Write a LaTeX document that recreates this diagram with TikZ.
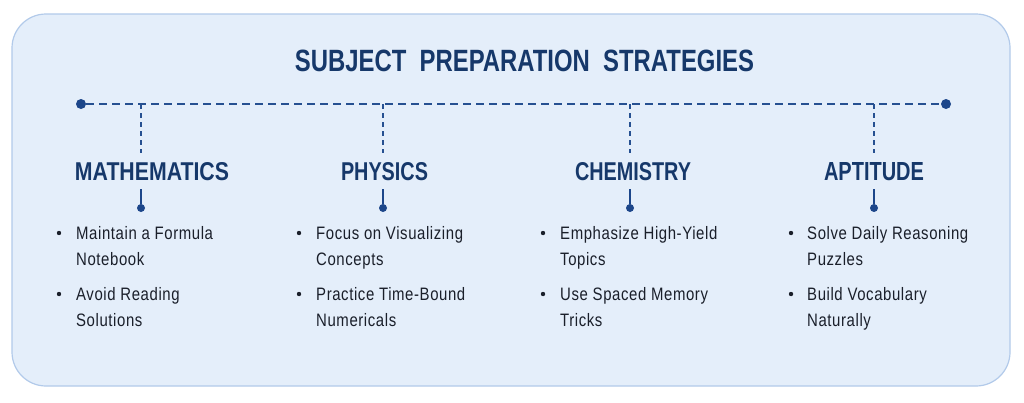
\documentclass[tikz,border=0pt]{standalone}
\usepackage{fontspec}
\setmainfont{Liberation Sans}
\newfontfamily\headfont{Liberation Sans}[BoldFont={* Bold}]
\newfontfamily\bodyfont{Liberation Sans}[LetterSpace=4.0]
\usepackage{graphicx}
\definecolor{boxfill}{RGB}{228,238,250}
\definecolor{boxline}{RGB}{178,202,234}
\definecolor{navy}{RGB}{22,56,106}
\definecolor{linecol}{RGB}{38,80,145}
\definecolor{dotcol}{RGB}{28,70,138}
\definecolor{bodytext}{RGB}{26,31,42}
\tikzset{
  heading/.style={anchor=base, inner sep=0pt, text=navy},
  bodyline/.style={anchor=base west, inner sep=0pt, text=bodytext, font=\bodyfont\fontsize{18}{20}\selectfont},
  bigdot/.style={circle, fill=dotcol, inner sep=0pt, minimum size=10pt},
  smalldot/.style={circle, fill=dotcol, inner sep=0pt, minimum size=8pt},
  bulletdot/.style={circle, fill=bodytext, inner sep=0pt, minimum size=4.4pt},
  mainline/.style={draw=linecol, line width=1.8pt, dash pattern=on 8pt off 5pt},
  branchline/.style={draw=linecol, line width=1.3pt, dash pattern=on 5pt off 4pt},
  stemline/.style={draw=dotcol, line width=1.5pt}
}
\newcommand{\hd}[3]{\resizebox{#1pt}{#2pt}{\headfont\bfseries #3}}
\newcommand{\bt}[1]{\scalebox{0.83}[1]{#1}}
\begin{document}
\begin{tikzpicture}[x=1pt,y=-1pt]
\useasboundingbox (0,0) rectangle (1024,402);
\fill[white] (0,0) rectangle (1024,402);
\draw[fill=boxfill, draw=boxline, line width=1.2pt, rounded corners=34pt] (12,14) rectangle (1010,386);

% title
\node[heading] (title) at (524.5,71) {\hd{459}{21.5}{SUBJECT\ \ PREPARATION\ \ STRATEGIES}};

% main line
\node[bigdot] (L) at (81,104) {};
\node[bigdot] (R) at (946,104) {};
\draw[mainline] (L) -- (R);

% branch coordinates
\foreach \n/\x in {1/141,2/383,3/630,4/874}{
  \coordinate (b\n) at (\x,104);
  \coordinate (e\n) at (\x,153);
  \coordinate (s\n) at (\x,189);
  \node[smalldot] (d\n) at (\x,208) {};
}
\foreach \n in {1,2,3,4}{
  \draw[branchline] (b\n) -- (e\n);
  \draw[stemline] (s\n) -- (d\n);
}

% headings
\node[heading] (h1) at (152,180) {\hd{154}{18}{MATHEMATICS}};
\node[heading] (h2) at (384.5,180) {\hd{87}{18}{PHYSICS}};
\node[heading] (h3) at (633,180) {\hd{116}{18}{CHEMISTRY}};
\node[heading] (h4) at (874,180) {\hd{100}{18}{APTITUDE}};

% bullets
\foreach \n/\bx in {1/59,2/299,3/543,4/791}{
  \node[bulletdot] (p\n a) at (\bx,233) {};
  \node[bulletdot] (p\n b) at (\bx,294) {};
}

% body text
\node[bodyline] (t1a) at (76,239) {\bt{Maintain a Formula}};
\node[bodyline] (t1b) at (76,265) {\bt{Notebook}};
\node[bodyline] (t1c) at (76,300) {\bt{Avoid Reading}};
\node[bodyline] (t1d) at (76,326) {\bt{Solutions}};

\node[bodyline] (t2a) at (316,239) {\bt{Focus on Visualizing}};
\node[bodyline] (t2b) at (316,265) {\bt{Concepts}};
\node[bodyline] (t2c) at (316,300) {\bt{Practice Time-Bound}};
\node[bodyline] (t2d) at (316,326) {\bt{Numericals}};

\node[bodyline] (t3a) at (560,239) {\bt{Emphasize High-Yield}};
\node[bodyline] (t3b) at (560,265) {\bt{Topics}};
\node[bodyline] (t3c) at (560,300) {\bt{Use Spaced Memory}};
\node[bodyline] (t3d) at (560,326) {\bt{Tricks}};

\node[bodyline] (t4a) at (807,239) {\bt{Solve Daily Reasoning}};
\node[bodyline] (t4b) at (807,265) {\bt{Puzzles}};
\node[bodyline] (t4c) at (807,300) {\bt{Build Vocabulary}};
\node[bodyline] (t4d) at (807,326) {\bt{Naturally}};
\end{tikzpicture}
\end{document}
